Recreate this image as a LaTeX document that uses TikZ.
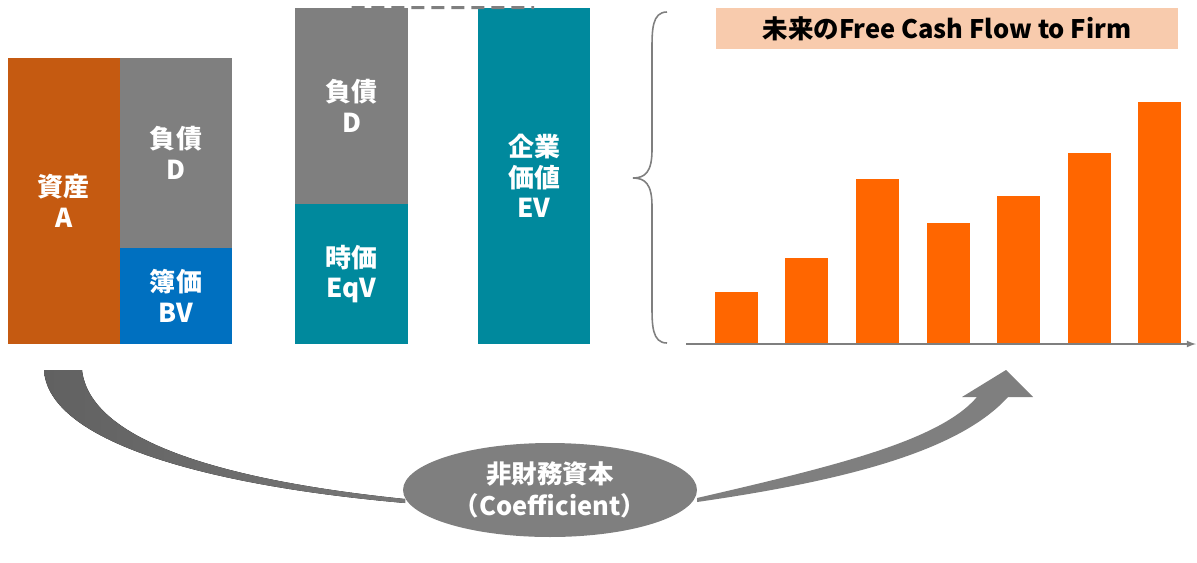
\documentclass[tikz,border=0pt]{standalone}
\usepackage{fontspec}
\setmainfont{Noto Sans CJK JP}
\usetikzlibrary{shapes.geometric}
\definecolor{assetc}{HTML}{C55A11}
\definecolor{debtc}{HTML}{7F7F7F}
\definecolor{bookc}{HTML}{0070C0}
\definecolor{tealc}{HTML}{00899D}
\definecolor{barc}{HTML}{FF6600}
\definecolor{titlec}{HTML}{F8CBAD}
\tikzset{
  >=latex,
}
\tikzstyle{block}=[inner sep=0pt,text=white,align=center,font=\fontsize{14.8}{17.5}\selectfont\bfseries]
\tikzstyle{bar}=[fill=barc]
\tikzstyle{axis}=[->,debtc,line width=0.8pt]
\tikzstyle{brace}=[debtc,line width=0.9pt]
\tikzstyle{flow}=[draw=none]

\begin{document}
\begin{tikzpicture}[x=0.02cm,y=-0.02cm]
    \useasboundingbox (0,0) rectangle (1197,562);
    % book values
    \node[block,fill=assetc,minimum width=2.24cm,minimum height=5.72cm] (asset) at (64,201) {資産\\A};
    \node[block,fill=debtc,minimum width=2.24cm,minimum height=3.8cm] (debt) at (176,153) {負債\\D};
    \node[block,fill=bookc,minimum width=2.24cm,minimum height=1.92cm] (book) at (176,296) {簿価\\BV};
    % market values
    \node[block,fill=debtc,minimum width=2.26cm,minimum height=3.92cm] (mdebt) at (351.5,106) {負債\\D};
    \node[block,fill=tealc,minimum width=2.26cm,minimum height=2.8cm] (eqv) at (351.5,274) {時価\\EqV};
    \node[block,fill=tealc,minimum width=2.24cm,minimum height=6.72cm] (ev) at (534,176) {企業\\価値\\EV};
    \draw[debtc,line width=1.7pt,dash pattern=on 0.26cm off 0.14cm] (mdebt.north) -- (ev.north);
    % future cash flows
    \draw[brace] (667,12) .. controls (652,12) and (652,30) .. (652,50) -- (652,150)
      .. controls (652,172) and (645,178) .. (633,178)
      .. controls (645,178) and (652,184) .. (652,206) -- (652,305)
      .. controls (652,325) and (652,343) .. (667,343);
    \node[fill=titlec,minimum width=9.24cm,minimum height=0.82cm,inner sep=0pt,
      font=\fontsize{14.5}{16}\selectfont\bfseries] (fcff) at (947,28.5) {未来のFree Cash Flow to Firm};
    \foreach \x/\t in {715/292,785/258,856/179,927/223,997/196,1068/153,1138/102}
      \fill[bar] (\x,344) rectangle (\x+43,\t);
    \draw[axis] (686,344) -- (1196,344);
    % coefficient arrows
    \fill[flow,left color=black!62,right color=black!53]
      (44,370) .. controls (48,440) and (200,485) .. (405,503)
      -- (405,499) .. controls (220,480) and (90,440) .. (82,370) -- cycle;
    \fill[flow,fill=debtc]
      (697,502) .. controls (850,480) and (960,450) .. (1008,397)
      -- (1033,397) -- (1006,370) -- (962,397) -- (977,397)
      .. controls (940,440) and (840,465) .. (697,498) -- cycle;
    \node[ellipse,fill=debtc,text=white,minimum width=5.88cm,minimum height=1.88cm,inner sep=0pt,
      align=center,font=\fontsize{14.5}{18}\selectfont\bfseries] (coef) at (550,490) {非財務資本\\（Coefficient）};
\end{tikzpicture}
\end{document}
